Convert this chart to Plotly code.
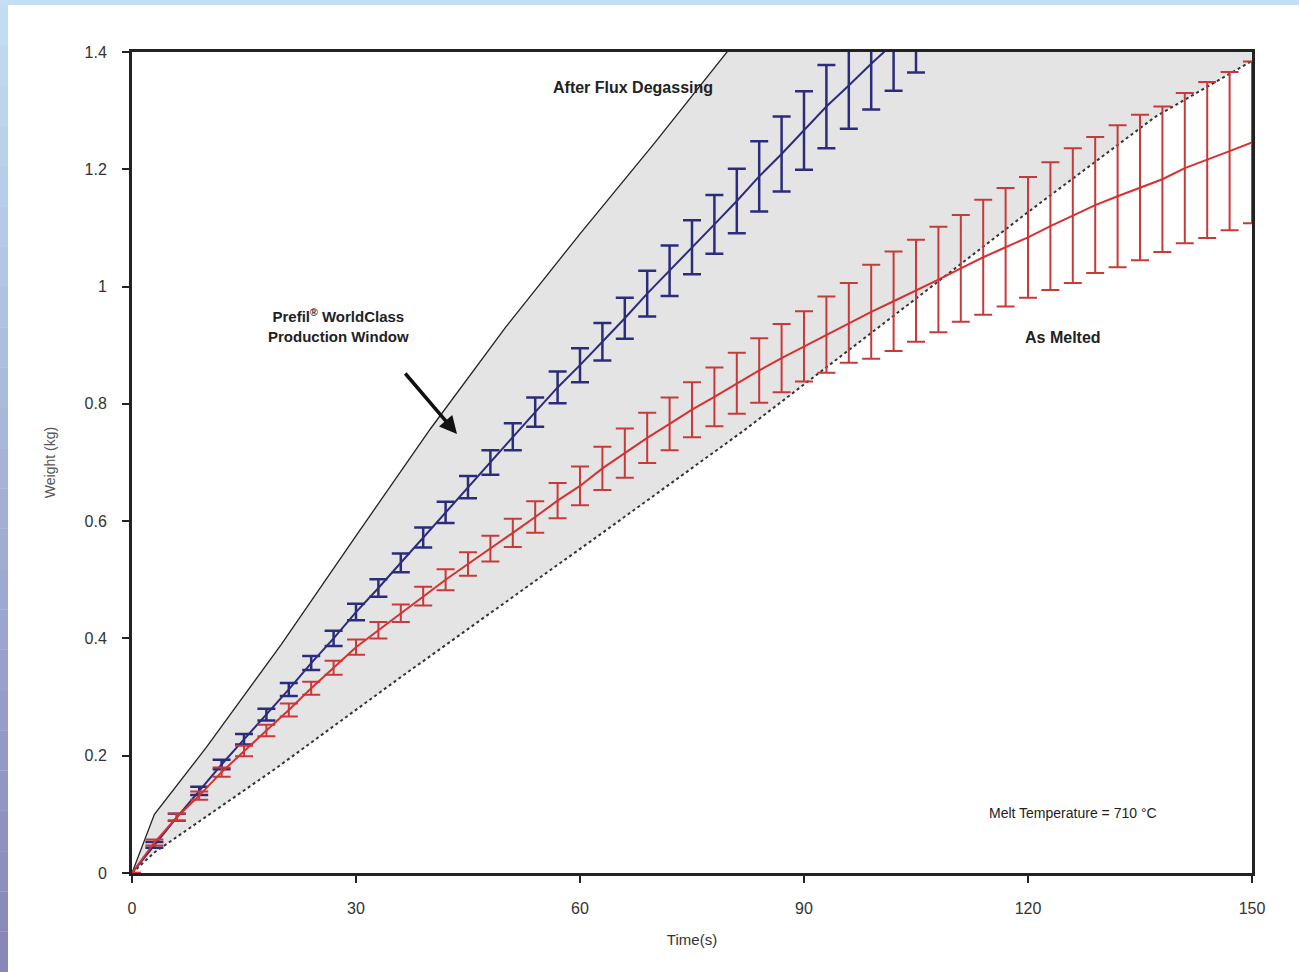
import plotly.graph_objects as go

# ---------------- data ----------------
t_blue = [0, 3, 6, 9, 12, 15, 18, 21, 24, 27, 30, 33, 36, 39, 42, 45, 48, 51, 54, 57,
          60, 63, 66, 69, 72, 75, 78, 81, 84, 87, 90, 93, 96, 99, 102, 105]
w_blue = [0, 0.048, 0.095, 0.140, 0.185, 0.228, 0.270, 0.313, 0.358, 0.400, 0.445, 0.486,
          0.529, 0.572, 0.615, 0.658, 0.700, 0.744, 0.786, 0.828, 0.866, 0.906, 0.946,
          0.988, 1.027, 1.067, 1.106, 1.146, 1.188, 1.226, 1.266, 1.307, 1.343, 1.380,
          1.415, 1.450]
e_blue = [0, 0.005, 0.006, 0.007, 0.008, 0.009, 0.010, 0.011, 0.012, 0.013, 0.014, 0.015,
          0.016, 0.017, 0.018, 0.019, 0.021, 0.023, 0.025, 0.027, 0.029, 0.032, 0.035,
          0.039, 0.043, 0.046, 0.050, 0.055, 0.060, 0.064, 0.067, 0.071, 0.074, 0.078,
          0.081, 0.085]

t_red = [0, 3, 6, 9, 12, 15, 18, 21, 24, 27, 30, 33, 36, 39, 42, 45, 48, 51, 54, 57, 60,
         63, 66, 69, 72, 75, 78, 81, 84, 87, 90, 93, 96, 99, 102, 105, 108, 111, 114, 117,
         120, 123, 126, 129, 132, 135, 138, 141, 144, 147, 150]
w_red = [0, 0.052, 0.095, 0.132, 0.172, 0.208, 0.243, 0.278, 0.315, 0.350, 0.385, 0.414,
         0.443, 0.472, 0.500, 0.527, 0.553, 0.580, 0.607, 0.635, 0.660, 0.690, 0.716,
         0.742, 0.766, 0.790, 0.812, 0.835, 0.857, 0.878, 0.898, 0.918, 0.938, 0.957,
         0.975, 0.993, 1.012, 1.031, 1.050, 1.067, 1.084, 1.103, 1.121, 1.139, 1.154,
         1.169, 1.183, 1.202, 1.216, 1.231, 1.246]
e_red = [0, 0.005, 0.006, 0.007, 0.008, 0.009, 0.010, 0.011, 0.011, 0.012, 0.013, 0.014,
         0.015, 0.016, 0.018, 0.020, 0.022, 0.024, 0.027, 0.030, 0.033, 0.037, 0.042,
         0.043, 0.045, 0.047, 0.050, 0.052, 0.055, 0.058, 0.060, 0.065, 0.068, 0.080,
         0.085, 0.087, 0.090, 0.091, 0.098, 0.101, 0.103, 0.109, 0.115, 0.116, 0.121,
         0.124, 0.124, 0.128, 0.133, 0.135, 0.138]

# upper boundary (solid) and lower boundary (dotted) of the production window
t_upper = [0, 3, 10, 20, 30, 40, 50, 60, 70, 80]
w_upper = [0, 0.100, 0.215, 0.390, 0.575, 0.758, 0.930, 1.090, 1.245, 1.405]
t_lower = [0, 3, 19, 36, 63, 82, 103, 120, 137, 150]
w_lower = [0, 0.035, 0.176, 0.334, 0.580, 0.755, 0.960, 1.127, 1.289, 1.385]

x_ticks = [0, 30, 60, 90, 120, 150]
y_ticks = [0, 0.2, 0.4, 0.6, 0.8, 1.0, 1.2, 1.4]
y_ticktext = ["0", "0.2", "0.4", "0.6", "0.8", "1", "1.2", "1.4"]
X_MAX, Y_MAX = 150, 1.4

# ---------------- layout geometry ----------------
W, H = 1299, 972
ML, MR, MT, MB = 132, 47, 52, 99
PW, PH = W - ML - MR, H - MT - MB


def px_x(p):
    return (p - ML) / PW


def px_y(p):
    return (H - MB - p) / PH


FONT = "Liberation Sans, Arial, sans-serif"
BLUE = "#2c2c7c"
RED = "#d83030"
RED_ERR = "#c83a3a"

fig = go.Figure()

# shaded window
fig.add_trace(go.Scatter(
    x=t_upper + [X_MAX] + t_lower[::-1],
    y=w_upper + [w_upper[-1]] + w_lower[::-1],
    fill="toself", fillcolor="#e4e4e4", line=dict(width=0),
    mode="lines", hoverinfo="skip", showlegend=False))

fig.add_trace(go.Scatter(x=t_lower, y=w_lower, mode="lines",
                         line=dict(color="#333333", width=2, dash="dot"),
                         showlegend=False))
fig.add_trace(go.Scatter(x=t_upper, y=w_upper, mode="lines",
                         line=dict(color="#222222", width=1.3),
                         showlegend=False))

fig.add_trace(go.Scatter(
    x=t_blue, y=w_blue, mode="lines", line=dict(color=BLUE, width=2),
    error_y=dict(type="data", array=e_blue, color=BLUE, thickness=2.5, width=9),
    showlegend=False))
fig.add_trace(go.Scatter(
    x=t_red, y=w_red, mode="lines", line=dict(color=RED, width=2),
    error_y=dict(type="data", array=e_red, color=RED_ERR, thickness=2, width=9),
    showlegend=False))

# ---------------- background decoration ----------------
shapes = []
shapes.append(dict(type="rect", xref="paper", yref="paper", layer="below",
                   x0=px_x(8), x1=px_x(W), y0=px_y(H), y1=px_y(5),
                   fillcolor="white", line=dict(width=0)))
top_c = (196, 222, 243)
bot_c = (135, 134, 182)
N = 24
for i in range(N):
    f = (i + 0.5) / N
    c = tuple(int(top_c[k] + (bot_c[k] - top_c[k]) * f) for k in range(3))
    shapes.append(dict(type="rect", xref="paper", yref="paper", layer="below",
                       x0=px_x(0), x1=px_x(8),
                       y0=px_y(5 + (H - 5) * (i + 1) / N), y1=px_y(5 + (H - 5) * i / N),
                       fillcolor="rgb(%d,%d,%d)" % c, line=dict(width=0)))

annotations = [
    dict(text="<b>After Flux Degassing</b>", x=px_x(633), y=px_y(88), xref="paper",
         yref="paper", showarrow=False, font=dict(family=FONT, size=16, color="#222"),
         xanchor="center", yanchor="middle"),
    dict(text="<b>Prefil<sup>®</sup> WorldClass<br>Production Window</b>", x=px_x(338),
         y=px_y(325), xref="paper", yref="paper", showarrow=False,
         font=dict(family=FONT, size=15, color="#222"), xanchor="center",
         yanchor="middle", align="center"),
    dict(text="", x=px_x(457), y=px_y(434), ax=404 - 457, ay=372 - 434, xref="paper",
         yref="paper", axref="pixel", ayref="pixel", showarrow=True, arrowhead=2,
         arrowsize=1, arrowwidth=3.5, arrowcolor="#111"),
    dict(text="<b>As Melted</b>", x=px_x(1063), y=px_y(337), xref="paper", yref="paper",
         showarrow=False, font=dict(family=FONT, size=16, color="#222"),
         xanchor="center", yanchor="middle"),
    dict(text="Melt Temperature = 710 °C", x=px_x(1073), y=px_y(813), xref="paper",
         yref="paper", showarrow=False, font=dict(family=FONT, size=14, color="#222"),
         xanchor="center", yanchor="middle"),
]

fig.update_layout(
    width=W, height=H, autosize=False,
    margin=dict(l=ML, r=MR, t=MT, b=MB, pad=0),
    paper_bgcolor="#c4def3", plot_bgcolor="rgba(0,0,0,0)",
    shapes=shapes, annotations=annotations, showlegend=False,
    font=dict(family=FONT),
)
fig.update_xaxes(
    range=[0, X_MAX], tickvals=x_ticks, ticks="outside", ticklen=7, tickwidth=2,
    tickcolor="#222", showline=True, linecolor="#222", linewidth=3, mirror=True,
    showgrid=False, zeroline=False, ticklabelstandoff=12,
    tickfont=dict(family=FONT, size=16, color="#333"),
    title=dict(text="Time(s)", font=dict(family=FONT, size=15, color="#333"), standoff=19),
)
fig.update_yaxes(
    range=[0, Y_MAX], tickvals=y_ticks, ticktext=y_ticktext, ticks="outside", ticklen=7,
    tickwidth=2, tickcolor="#222", showline=True, linecolor="#222", linewidth=3,
    mirror=True, showgrid=False, zeroline=False, ticklabelstandoff=12,
    tickfont=dict(family=FONT, size=16, color="#333"),
    title=dict(text="Weight (kg)", font=dict(family=FONT, size=14, color="#555"), standoff=26),
)

fig.write_html("out.html")
